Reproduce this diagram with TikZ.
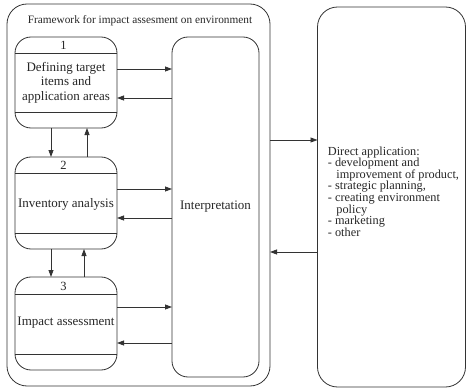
\documentclass[tikz,border=0pt]{standalone}
\usepackage{fontspec}
\setmainfont{Liberation Serif}
\usetikzlibrary{arrows.meta}
\newcommand\mytightlines{\lineskiplimit=-20pt\relax\lineskip=0pt\relax}
\begin{document}
\begin{tikzpicture}[x=1pt,y=-1pt,
  line width=0.8pt,
  every node/.style={text=black!85},
  frame/.style={draw=black!80, rectangle, inner sep=0pt, outer sep=0pt},
  stagebox/.style={frame, rounded corners=16pt, minimum width=102pt},
  boxtext/.style={font=\fontsize{13}{14.5}\selectfont, align=center, inner sep=0pt},
  numtext/.style={font=\fontsize{12.5}{13}\selectfont, inner sep=0pt},
  arr/.style={draw=black!80, -{Triangle[length=7pt,width=5pt]}},
  band/.style={draw=black!80}
]
\useasboundingbox (0,0) rectangle (467,388);

% outer framework
\node[frame, rounded corners=20pt, minimum width=263pt, minimum height=382pt] (outer) at (138.5,195) {};
\node[font=\fontsize{11.3}{13}\selectfont, inner sep=0pt] (title) at (140,20.5) {Framework for impact assesment on environment};

% stage boxes
\node[stagebox, minimum height=91pt] (b1) at (66,82.5) {};
\node[stagebox, minimum height=92pt] (b2) at (66,203) {};
\node[stagebox, minimum height=93pt] (b3) at (66,323.5) {};

\draw[band] ([yshift=-16pt]b1.north west) -- ([yshift=-16pt]b1.north east);
\draw[band] ([yshift=16pt]b1.south west) -- ([yshift=16pt]b1.south east);
\draw[band] ([yshift=-16pt]b2.north west) -- ([yshift=-16pt]b2.north east);
\draw[band] ([yshift=16pt]b2.south west) -- ([yshift=16pt]b2.south east);
\draw[band] ([yshift=-17pt]b3.north west) -- ([yshift=-17pt]b3.north east);
\draw[band] ([yshift=16pt]b3.south west) -- ([yshift=16pt]b3.south east);

\node[numtext] (n1) at (63.5,45.5) {1};
\node[numtext] (n2) at (63.5,165.5) {2};
\node[numtext] (n3) at (63.5,286) {3};

\node[boxtext] (t1) at (66,82.5) {Defining target\\items and\\application areas};
\node[boxtext] (t2) at (66,204) {Inventory analysis};
\node[boxtext] (t3) at (66,323) {Impact assessment};

% interpretation
\node[frame, rounded corners=16pt, minimum width=87pt, minimum height=340pt] (interp) at (215.5,207) {};
\node[boxtext] (it) at (215.5,207) {Interpretation};

% right box
\node[frame, rounded corners=20pt, minimum width=148pt, minimum height=380pt] (right) at (391.5,197) {};
\node[font={\fontsize{12.3}{11.6}\selectfont\mytightlines}, align=left, inner sep=0pt, anchor=west] (rt) at (327.5,191.5)
{Direct application:\\
- development and\\
\hspace*{8.5pt}improvement of product,\\
- strategic planning,\\
- creating environment\\
\hspace*{8.5pt}policy\\
- marketing\\
- other};

% arrows box <-> interpretation
\draw[arr] (b1.east |- 0,69) -- (interp.west |- 0,69);
\draw[arr] (interp.west |- 0,98) -- (b1.east |- 0,98);
\draw[arr] (b2.east |- 0,189) -- (interp.west |- 0,189);
\draw[arr] (interp.west |- 0,218) -- (b2.east |- 0,218);
\draw[arr] (b3.east |- 0,307) -- (interp.west |- 0,307);
\draw[arr] (interp.west |- 0,343) -- (b3.east |- 0,343);

% vertical arrows between stages
\draw[arr] (b1.south -| 51,0) -- (b2.north -| 51,0);
\draw[arr] (b2.north -| 87,0) -- (b1.south -| 87,0);
\draw[arr] (b2.south -| 51,0) -- (b3.north -| 51,0);
\draw[arr] (b3.north -| 84,0) -- (b2.south -| 84,0);

% framework <-> direct application
\draw[arr] (outer.east |- 0,140) -- (right.west |- 0,140);
\draw[arr] (right.west |- 0,252) -- (outer.east |- 0,252);
\end{tikzpicture}
\end{document}
